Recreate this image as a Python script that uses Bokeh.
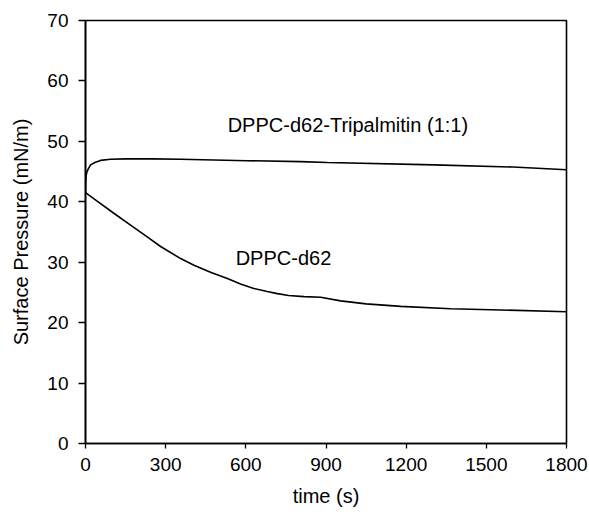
from bokeh.plotting import figure
from bokeh.models import Range1d, FixedTicker, Label
from bokeh.embed import file_html
from bokeh.resources import INLINE

# Data
time_tri = [0, 0.5, 2, 5, 10, 19, 35, 56, 94, 150, 250, 356, 605, 805, 905, 1305, 1600, 1800]
pres_tri = [41.5, 43.0, 44.2, 44.9, 45.4, 46.1, 46.5, 46.85, 47.05, 47.1, 47.1, 47.05, 46.8, 46.65, 46.5, 46.1, 45.75, 45.3]

time_dppc = [0, 50, 106, 170, 231, 281, 356, 406, 470, 531, 580, 630, 680, 718, 760, 818, 880, 955, 1050, 1180, 1367, 1554, 1800]
pres_dppc = [41.5, 39.9, 38.1, 36.1, 34.2, 32.6, 30.6, 29.5, 28.3, 27.3, 26.4, 25.65, 25.15, 24.8, 24.5, 24.3, 24.2, 23.6, 23.1, 22.7, 22.3, 22.1, 21.8]

x_ticks = [0, 300, 600, 900, 1200, 1500, 1800]
y_ticks = [0, 10, 20, 30, 40, 50, 60, 70]

label_tri = "DPPC-d62-Tripalmitin (1:1)"
label_dppc = "DPPC-d62"

FONT = "Liberation Sans"

p = figure(width=589, height=514, output_backend="svg", toolbar_location=None,
           x_range=Range1d(0, 1800), y_range=Range1d(0, 70),
           min_border_left=85, min_border_right=23, min_border_top=20, min_border_bottom=71)

p.background_fill_color = "white"
p.border_fill_color = "white"
p.outline_line_color = "black"
p.outline_line_width = 1.6
p.xgrid.visible = False
p.ygrid.visible = False

p.line(time_tri, pres_tri, line_color="black", line_width=1.6)
p.line(time_dppc, pres_dppc, line_color="black", line_width=1.6)

for ax in (p.xaxis[0], p.yaxis[0]):
    ax.axis_line_color = "black"
    ax.axis_line_width = 1.6
    ax.major_tick_line_color = "black"
    ax.major_tick_line_width = 1.3
    ax.minor_tick_line_color = None
    ax.major_tick_in = 0
    ax.major_label_text_font = FONT
    ax.major_label_text_font_size = "19px"
    ax.major_label_text_color = "black"
    ax.axis_label_text_font = FONT
    ax.axis_label_text_font_size = "20px"
    ax.axis_label_text_font_style = "normal"
    ax.axis_label_text_color = "black"

p.xaxis[0].ticker = FixedTicker(ticks=x_ticks)
p.yaxis[0].ticker = FixedTicker(ticks=y_ticks)
p.xaxis[0].major_tick_out = 5
p.yaxis[0].major_tick_out = 7
p.xaxis[0].major_label_standoff = 9
p.yaxis[0].major_label_standoff = 10
p.xaxis[0].axis_label = "time (s)"
p.yaxis[0].axis_label = "Surface Pressure (mN/m)"
p.xaxis[0].axis_label_standoff = 11
p.yaxis[0].axis_label_standoff = 12

p.add_layout(Label(x=532, y=52.7, text=label_tri, text_font=FONT, text_font_size="20px",
                   text_baseline="middle", text_align="left", text_color="black"))
p.add_layout(Label(x=562, y=30.7, text=label_dppc, text_font=FONT, text_font_size="20px",
                   text_baseline="middle", text_align="left", text_color="black"))

open("out.html", "w").write(file_html(p, INLINE))
